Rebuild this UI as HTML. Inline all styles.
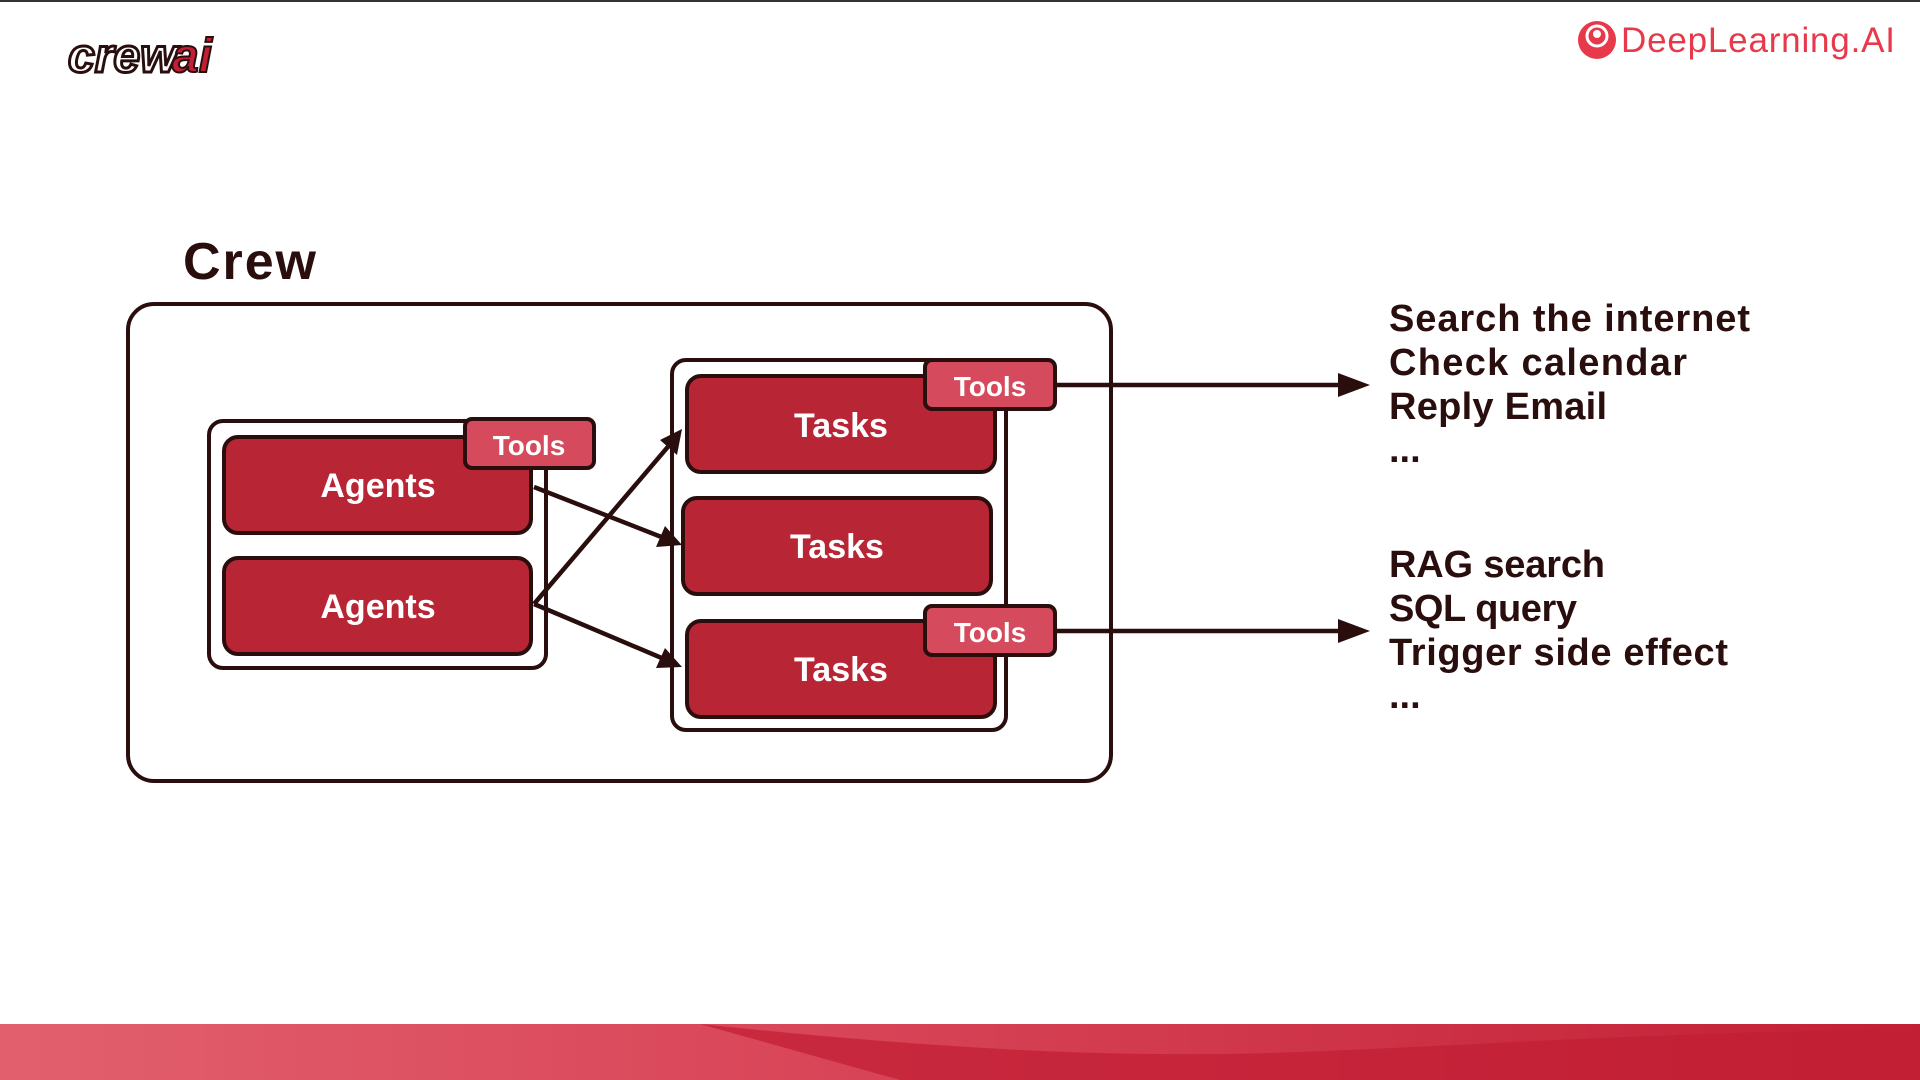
<!DOCTYPE html>
<html><head><meta charset="utf-8"><style>
html,body{margin:0;padding:0;background:#fff;width:1920px;height:1080px;overflow:hidden}
svg{display:block}
text{font-family:"Liberation Sans",sans-serif;font-weight:bold}
</style></head><body>
<svg width="1920" height="1080" viewBox="0 0 1920 1080" xmlns="http://www.w3.org/2000/svg">
<defs>
<linearGradient id="band" x1="0" x2="1" y1="0" y2="0">
<stop offset="0" stop-color="#e2606e"/><stop offset="0.45" stop-color="#d84457"/><stop offset="1" stop-color="#c21f34"/>
</linearGradient>
</defs>
<rect x="0" y="0" width="1920" height="2" fill="#333"/>
<!-- logos -->
<text x="68" y="72" font-size="48" font-style="italic" fill="#fff" stroke="#2a0e0e" stroke-width="3" font-family="Liberation Serif">crew</text>
<text x="172" y="72" font-size="48" font-style="italic" fill="#c21f34" stroke="#2a0e0e" stroke-width="2" font-family="Liberation Serif">ai</text>
<circle cx="1597" cy="40" r="19" fill="#e8394a"/>
<circle cx="1597" cy="36" r="10" fill="none" stroke="#fff" stroke-width="3"/>
<circle cx="1597" cy="34" r="4" fill="#fff"/>
<text x="1621" y="52" font-size="35" fill="#e8394a" style="font-weight:normal" textLength="274">DeepLearning.AI</text>
<!-- Crew -->
<text x="183" y="279" font-size="52" fill="#2a0e0e" textLength="133">Crew</text>
<rect x="128" y="304" width="983" height="477" rx="26" fill="none" stroke="#2a0e0e" stroke-width="4"/>
<!-- agents -->
<rect x="209" y="421" width="337" height="247" rx="14" fill="#fff" stroke="#2a0e0e" stroke-width="4"/>
<rect x="224" y="437" width="307" height="96" rx="14" fill="#b82535" stroke="#2a0e0e" stroke-width="4"/>
<rect x="224" y="558" width="307" height="96" rx="14" fill="#b82535" stroke="#2a0e0e" stroke-width="4"/>
<text x="378" y="497" font-size="34" fill="#fff" text-anchor="middle">Agents</text>
<text x="378" y="618" font-size="34" fill="#fff" text-anchor="middle">Agents</text>
<rect x="465" y="419" width="129" height="49" rx="7" fill="#d54a5c" stroke="#2a0e0e" stroke-width="4"/>
<text x="529" y="455" font-size="28" fill="#fff" text-anchor="middle">Tools</text>
<!-- tasks -->
<rect x="672" y="360" width="334" height="370" rx="14" fill="#fff" stroke="#2a0e0e" stroke-width="4"/>
<rect x="687" y="376" width="308" height="96" rx="14" fill="#b82535" stroke="#2a0e0e" stroke-width="4"/>
<rect x="683" y="498" width="308" height="96" rx="14" fill="#b82535" stroke="#2a0e0e" stroke-width="4"/>
<rect x="687" y="621" width="308" height="96" rx="14" fill="#b82535" stroke="#2a0e0e" stroke-width="4"/>
<text x="841" y="437" font-size="34" fill="#fff" text-anchor="middle">Tasks</text>
<text x="837" y="558" font-size="34" fill="#fff" text-anchor="middle">Tasks</text>
<text x="841" y="681" font-size="34" fill="#fff" text-anchor="middle">Tasks</text>
<rect x="925" y="360" width="130" height="49" rx="7" fill="#d54a5c" stroke="#2a0e0e" stroke-width="4"/>
<text x="990" y="396" font-size="28" fill="#fff" text-anchor="middle">Tools</text>
<rect x="925" y="606" width="130" height="49" rx="7" fill="#d54a5c" stroke="#2a0e0e" stroke-width="4"/>
<text x="990" y="642" font-size="28" fill="#fff" text-anchor="middle">Tools</text>
<!-- arrows -->
<g stroke="#2a0e0e" stroke-width="4.5" fill="#2a0e0e">
<line x1="534" y1="487" x2="664" y2="538"/>
<polygon points="682,545 656,547 665,526" stroke="none"/>
<line x1="534" y1="604" x2="672" y2="442"/>
<polygon points="682,429 677,455 660,440" stroke="none"/>
<line x1="534" y1="604" x2="664" y2="659"/>
<polygon points="682,667 656,668 665,648" stroke="none"/>
<line x1="1056" y1="385" x2="1345" y2="385"/>
<polygon points="1370,385 1338,373 1338,397" stroke="none"/>
<line x1="1056" y1="631" x2="1345" y2="631"/>
<polygon points="1370,631 1338,619 1338,643" stroke="none"/>
</g>
<!-- right text -->
<g font-size="38" fill="#2a0e0e">
<text x="1389" y="331" textLength="361">Search the internet</text>
<text x="1389" y="375" textLength="298">Check calendar</text>
<text x="1389" y="419" textLength="218">Reply Email</text>
<text x="1389" y="462">...</text>
<text x="1389" y="577" textLength="216">RAG search</text>
<text x="1389" y="621" textLength="188">SQL query</text>
<text x="1389" y="665" textLength="339">Trigger side effect</text>
<text x="1389" y="708">...</text>
</g>
<!-- bottom band -->
<rect x="0" y="1024" width="1920" height="56" fill="url(#band)"/>
<path d="M700,1024 C900,1045 1100,1060 1300,1052 C1500,1044 1700,1030 1920,1030 L1920,1080 L900,1080 Z" fill="#c21f34" opacity="0.75"/>
</svg>
</body></html>
